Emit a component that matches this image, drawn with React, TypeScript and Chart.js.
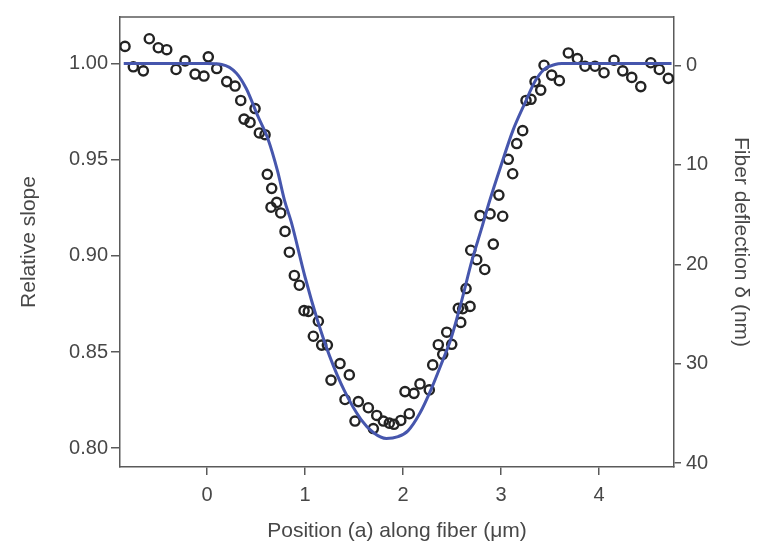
import React, { useEffect, useRef } from "react";
import { Chart, registerables } from "chart.js";

Chart.register(...registerables);

// Axis ticks
const xTicks = [0, 1, 2, 3, 4];
const slopeTicks = [0.8, 0.85, 0.9, 0.95, 1.0];
const deflectionTicks = [0, 10, 20, 30, 40];

// Measured relative slope (open circles)
const dataX = [
  -0.837, -0.752, -0.65, -0.589, -0.497, -0.411, -0.316, -0.224, -0.122, -0.031,
  0.013, 0.099, 0.201, 0.286, 0.344, 0.49, 0.378, 0.439, 0.534, 0.592,
  0.615, 0.66, 0.711, 0.653, 0.752, 0.796, 0.84, 0.891, 0.942, 0.99,
  1.034, 1.136, 1.085, 1.17, 1.228, 1.357, 1.265, 1.452, 1.408, 1.544,
  1.51, 1.646, 1.732, 1.697, 1.799, 1.86, 1.908, 1.977, 2.064, 2.02,
  2.112, 2.173, 2.268, 2.303, 2.36, 2.405, 2.446, 2.497, 2.564, 2.609,
  2.684, 2.589, 2.643, 2.691, 2.752, 2.834, 2.921, 2.786, 2.888, 3.017,
  2.978, 3.074, 3.119, 3.16, 3.221, 3.255, 3.306, 3.405, 3.347, 3.439,
  3.517, 3.595, 3.687, 3.779, 3.857, 3.959, 4.051, 4.153, 4.242, 4.334,
  4.426, 4.528, 4.615, 4.707,
];
const dataY = [
  1.0089, 0.9983, 0.9962, 1.0129, 1.0082, 1.0072, 0.9969, 1.0014, 0.9945, 0.9935,
  1.0035, 0.9974, 0.9906, 0.9883, 0.9808, 0.9766, 0.9711, 0.9694, 0.9639, 0.963,
  0.9424, 0.9351, 0.9278, 0.9253, 0.9223, 0.9127, 0.9019, 0.8898, 0.8847, 0.8715,
  0.8711, 0.866, 0.8582, 0.8536, 0.8536, 0.844, 0.8354, 0.8381, 0.8253, 0.8242,
  0.8141, 0.821, 0.817, 0.8102, 0.8141, 0.813, 0.8124, 0.8144, 0.8179, 0.8294,
  0.8285, 0.8334, 0.8303, 0.8433, 0.8538, 0.8488, 0.8603, 0.854, 0.8727, 0.8725,
  0.8737, 0.8654, 0.883, 0.9029, 0.898, 0.8929, 0.9061, 0.9209, 0.9218, 0.9206,
  0.9316, 0.9502, 0.9427, 0.9584, 0.9651, 0.9808, 0.9814, 0.9862, 0.9906, 0.9991,
  0.994, 0.9911, 1.0055, 1.0026, 0.9986, 0.9986, 0.9952, 1.0017, 0.9962, 0.9928,
  0.988, 1.0004, 0.9969, 0.9923,
];

// Fitted curve (blue line)
const fitX = [
  -0.85, 0.0, 0.15, 0.3, 0.4, 0.52, 0.62, 0.72, 0.79, 0.86,
  1.0, 1.13, 1.25, 1.4, 1.57, 1.7, 1.83, 1.95, 2.05, 2.17,
  2.29, 2.4, 2.49, 2.6, 2.7, 2.8, 2.88, 3.0, 3.12, 3.24,
  3.35, 3.44, 3.55, 3.62, 4.74,
];
const fitY = [
  1.0, 1.0, 0.9995, 0.995, 0.987, 0.9725, 0.961, 0.944, 0.929, 0.9175,
  0.889, 0.866, 0.848, 0.83, 0.815, 0.808, 0.805, 0.806, 0.809, 0.818,
  0.831, 0.845, 0.857, 0.877, 0.897, 0.914, 0.928, 0.947, 0.965, 0.979,
  0.991, 0.997, 0.9995, 1.0, 1.0,
];

const AXIS = "#5a5a5a";
const TEXT = "#474747";
const FONT = "'Liberation Sans', Arial, Helvetica, sans-serif";

export default function App() {
  const ref = useRef<HTMLCanvasElement | null>(null);

  useEffect(() => {
    document.body.style.margin = "0";
    const canvas = ref.current;
    if (!canvas) return;

    const topBorder = {
      id: "topBorder",
      afterDraw(chart: any) {
        const { ctx, chartArea } = chart;
        ctx.save();
        ctx.strokeStyle = AXIS;
        ctx.lineWidth = 1.5;
        ctx.beginPath();
        ctx.moveTo(chartArea.left, chartArea.top);
        ctx.lineTo(chartArea.right, chartArea.top);
        ctx.stroke();
        ctx.restore();
      },
    };

    const chart = new Chart(canvas, {
      type: "scatter",
      data: {
        datasets: [
          {
            label: "fit",
            data: fitX.map((x, i) => ({ x, y: fitY[i] })),
            showLine: true,
            borderColor: "#4656ad",
            borderWidth: 3,
            pointRadius: 0,
            cubicInterpolationMode: "monotone",
            yAxisID: "y",
            order: 0,
          },
          {
            label: "data",
            data: dataX.map((x, i) => ({ x, y: dataY[i] })),
            showLine: false,
            pointStyle: "circle",
            pointRadius: 4.6,
            pointBorderWidth: 2.4,
            pointBorderColor: "#232323",
            pointBackgroundColor: "rgba(0,0,0,0)",
            yAxisID: "y",
            order: 1,
          },
        ],
      },
      options: {
        responsive: false,
        animation: false,
        layout: { padding: { top: 13, left: 0, right: 0, bottom: 0 } },
        plugins: {
          legend: { display: false },
          tooltip: { enabled: false },
        },
        scales: {
          x: {
            type: "linear",
            position: "bottom",
            min: -0.888,
            max: 4.765,
            afterBuildTicks: (s: any) => {
              s.ticks = xTicks.map((v) => ({ value: v }));
            },
            afterFit: (s: any) => {
              s.height = 84;
            },
            grid: {
              drawOnChartArea: false,
              drawTicks: true,
              tickLength: 8,
              color: AXIS,
              lineWidth: 1.5,
            },
            border: { display: true, color: AXIS, width: 1.5 },
            ticks: {
              color: TEXT,
              font: { family: FONT, size: 20 },
              padding: 8,
              maxRotation: 0,
              callback: (v: any) => String(v),
            },
            title: {
              display: true,
              text: "Position (a) along fiber (μm)",
              color: TEXT,
              font: { family: FONT, size: 21 },
              padding: { top: 0, bottom: 7 },
            },
          },
          y: {
            type: "linear",
            position: "left",
            min: 0.7902,
            max: 1.0242,
            afterBuildTicks: (s: any) => {
              s.ticks = slopeTicks.map((v) => ({ value: v }));
            },
            afterFit: (s: any) => {
              s.width = 120;
            },
            grid: {
              drawOnChartArea: false,
              drawTicks: true,
              tickLength: 9,
              color: AXIS,
              lineWidth: 1.5,
            },
            border: { display: true, color: AXIS, width: 1.5 },
            ticks: {
              color: TEXT,
              font: { family: FONT, size: 20 },
              padding: 3,
              callback: (v: any) => Number(v).toFixed(2),
            },
            title: {
              display: true,
              text: "Relative slope",
              color: TEXT,
              font: { family: FONT, size: 21 },
              padding: { top: 17, bottom: 0 },
            },
          },
          y2: {
            type: "linear",
            position: "right",
            reverse: true,
            min: -4.89,
            max: 40.4,
            afterBuildTicks: (s: any) => {
              s.ticks = deflectionTicks.map((v) => ({ value: v }));
            },
            afterFit: (s: any) => {
              s.width = 85;
            },
            grid: {
              drawOnChartArea: false,
              drawTicks: true,
              tickLength: 7,
              color: AXIS,
              lineWidth: 1.5,
            },
            border: { display: true, color: AXIS, width: 1.5 },
            ticks: {
              color: TEXT,
              font: { family: FONT, size: 20 },
              padding: 5,
              callback: (v: any) => String(v),
            },
            title: {
              display: true,
              text: "Fiber deflection δ (nm)",
              color: TEXT,
              font: { family: FONT, size: 21 },
              padding: { top: 6, bottom: 0 },
            },
          },
        },
      },
      plugins: [topBorder],
    } as any);

    return () => chart.destroy();
  }, []);

  return (
    <div style={{ width: 759, height: 551, background: "#ffffff" }}>
      <canvas ref={ref} width={759} height={551} style={{ display: "block" }} />
    </div>
  );
}
